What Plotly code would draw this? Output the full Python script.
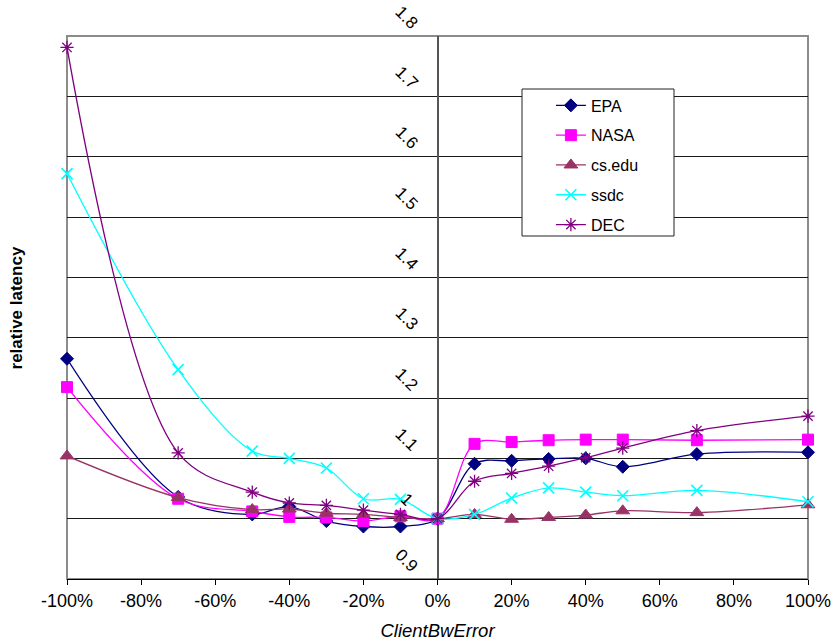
import plotly.graph_objects as go

# ClientBwError in percent
error_pct = [-100, -70, -50, -40, -30, -20, -10, 0, 10, 20, 30, 40, 50, 70, 100]

epa = [1.265, 1.036, 1.007, 1.020, 0.996, 0.987, 0.987, 1.000,
       1.091, 1.096, 1.099, 1.100, 1.086, 1.107, 1.110]
nasa = [1.218, 1.033, 1.012, 1.003, 1.002, 0.996, 1.004, 1.000,
        1.124, 1.127, 1.130, 1.131, 1.131, 1.130, 1.131]
cs_edu = [1.104, 1.035, 1.015, 1.016, 1.009, 1.007, 1.002, 1.000,
          1.007, 0.999, 1.002, 1.006, 1.013, 1.010, 1.023]
ssdc = [1.572, 1.247, 1.112, 1.100, 1.084, 1.033, 1.032, 1.000,
        1.007, 1.034, 1.051, 1.044, 1.038, 1.047, 1.028]
dec = [1.781, 1.109, 1.044, 1.026, 1.022, 1.014, 1.007, 1.000,
       1.062, 1.075, 1.087, 1.101, 1.117, 1.146, 1.170]

x_ticks = [-100, -80, -60, -40, -20, 0, 20, 40, 60, 80, 100]
x_tick_text = [f"{v}%" for v in x_ticks]
y_ticks = [0.9, 1.0, 1.1, 1.2, 1.3, 1.4, 1.5, 1.6, 1.7, 1.8]
y_tick_text = ["0.9", "1", "1.1", "1.2", "1.3", "1.4", "1.5", "1.6", "1.7", "1.8"]

FONT = "Arial, Liberation Sans, sans-serif"

series = [
    ("EPA", epa, "#000080", "diamond", 10, 1),
    ("NASA", nasa, "#FF00FF", "square", 11, 1),
    ("cs.edu", cs_edu, "#993366", "triangle-up", 12, 1),
    ("ssdc", ssdc, "#00FFFF", "x-thin-open", 11, 1.6),
    ("DEC", dec, "#800080", "asterisk-open", 11, 1.3),
]

fig = go.Figure()
for name, vals, color, symbol, size, lw in series:
    fig.add_trace(go.Scatter(
        x=error_pct, y=vals, name=name, legendgroup=name,
        mode="lines+markers",
        line=dict(color=color, width=1.3, shape="spline", smoothing=1.0),
        marker=dict(symbol=symbol, size=size, color=color,
                    line=dict(color=color, width=lw)),
        cliponaxis=False,
    ))

# rotated value labels sitting along the x = 0 axis
annotations = [
    dict(x=0, y=v, xref="x", yref="y", text=t, showarrow=False,
         textangle=45, xshift=-31, yshift=19,
         font=dict(family=FONT, size=17, color="black"))
    for v, t in zip(y_ticks, y_tick_text)
]
annotations.append(dict(
    x=-0.0675, y=0.5, xref="paper", yref="paper", text="<b>relative latency</b>",
    showarrow=False, textangle=-90, xanchor="center", yanchor="middle",
    font=dict(family=FONT, size=17, color="black")))

# plot area frame and legend box
W, H = 835, 642
L, R, T, B = 67, 808, 36, 579
def px_to_paper(px, py):
    return (px - L) / (R - L), (B - py) / (B - T)
lx0, ly0 = px_to_paper(522, 236)
lx1, ly1 = px_to_paper(674, 89)
shapes = [
    dict(type="rect", xref="paper", yref="paper", x0=0, x1=1, y0=0, y1=1,
         line=dict(color="#8c8c8c", width=2), layer="below"),
    dict(type="rect", xref="paper", yref="paper", x0=lx0, x1=lx1, y0=ly0, y1=ly1,
         line=dict(color="#222222", width=1), fillcolor="white", layer="above"),
]

fig.update_layout(
    width=W, height=H,
    margin=dict(l=L, r=W - R, t=T, b=H - B, autoexpand=False),
    paper_bgcolor="white", plot_bgcolor="white",
    font=dict(family=FONT, size=17, color="black"),
    showlegend=True,
    legend=dict(x=lx0 + 0.039, y=ly1 + 0.001, xanchor="left", yanchor="top",
                bgcolor="rgba(0,0,0,0)", borderwidth=0,
                font=dict(family=FONT, size=16, color="black"),
                tracegroupgap=6, traceorder="grouped"),
    xaxis=dict(range=[-100, 100], tickvals=x_ticks, ticktext=x_tick_text,
               showgrid=False, zeroline=True, zerolinecolor="#555555",
               zerolinewidth=1.5, showline=True, linecolor="black", linewidth=1,
               ticks="outside", ticklen=5, tickcolor="black",
               tickfont=dict(family=FONT, size=18),
               title=dict(text="<i>ClientBwError</i>", standoff=14,
                          font=dict(family=FONT, size=18.5))),
    yaxis=dict(range=[0.9, 1.8], tickvals=y_ticks, showticklabels=False,
               showgrid=True, gridcolor="#1a1a1a", gridwidth=1,
               zeroline=False, showline=False, ticks=""),
    annotations=annotations,
    shapes=shapes,
)

fig.write_html("out.html")
